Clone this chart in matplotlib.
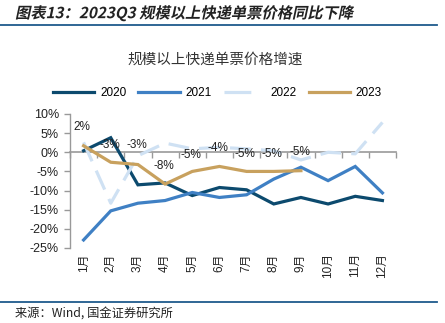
import matplotlib
matplotlib.use("Agg")
import matplotlib.pyplot as plt
from matplotlib.lines import Line2D
from matplotlib.patheffects import AbstractPathEffect
from matplotlib.transforms import Affine2D
import numpy as np

plt.rcParams['font.family'] = ['Liberation Sans', 'Noto Sans CJK SC', 'DejaVu Sans']

months = ['1月', '2月', '3月', '4月', '5月', '6月', '7月', '8月', '9月', '10月', '11月', '12月']
s2020 = [0.4, 3.8, -8.5, -8.0, -11.3, -9.2, -9.8, -13.5, -11.8, -13.5, -11.5, -12.6]
s2021 = [-22.9, -15.3, -13.3, -12.6, -10.5, -11.8, -11.1, -7.0, -3.9, -7.4, -3.7, -10.6]
s2022 = [2.6, -13.3, -0.9, 2.4, 0.9, 1.3, 0.9, 0.4, -2.0, 0.0, -0.4, 7.8]
s2023 = [1.7, -2.6, -3.2, -8.3, -5.0, -3.7, -5.0, -5.0, -4.8]
labels2023 = ['2%', '-3%', '-3%', '-8%', '-5%', '-4%', '-5%', '-5%', '-5%']
label_y = [6.5, 1.8, 1.8, -3.7, -0.7, 1.0, -0.4, -0.4, 0.0]
yticks = [10, 5, 0, -5, -10, -15, -20, -25]


class Skew(AbstractPathEffect):
    def __init__(self, deg=12):
        super().__init__()
        self.deg = deg

    def draw_path(self, renderer, gc, tpath, affine, rgbFace=None):
        m = affine.get_matrix()
        tx, ty = m[0, 2], m[1, 2]
        sk = Affine2D().translate(-tx, -ty).skew_deg(self.deg, 0).translate(tx, ty)
        renderer.draw_path(gc, tpath, affine + sk, rgbFace)


W, H = 445, 323
fig = plt.figure(figsize=(W / 100, H / 100), dpi=100)
ax = fig.add_axes([70 / W, 1 - 248 / H, (396 - 70) / W, (248 - 114) / H])

x = np.arange(len(months))
c2020, c2021, c2022, c2023 = '#0c4a6e', '#3f80c4', '#cfe1f3', '#c8a15e'
lw = 2.3
h20, = ax.plot(x, s2020, color=c2020, lw=lw, solid_joinstyle='miter')
h21, = ax.plot(x, s2021, color=c2021, lw=lw, solid_joinstyle='miter')
l22, = ax.plot(x, s2022, color=c2022, lw=lw)
l22.set_dashes((6.5, 3.2))
h23, = ax.plot(x[:len(s2023)], s2023, color=c2023, lw=lw, solid_joinstyle='miter')
h22 = Line2D([], [], color=c2022, lw=lw, dashes=(8.4, 6))

for i, (t, yy) in enumerate(zip(labels2023, label_y)):
    ax.text(x[i] - 0.05, yy, t, ha='center', va='center', fontsize=8.5, color='#222222')

ax.set_xlim(-0.5, len(months) - 0.5)
ax.set_ylim(-25, 10)
ax.set_yticks(yticks)
ax.set_yticklabels([f'{v}%' for v in yticks], fontsize=9, color='#222222')
for sp in ['top', 'right']:
    ax.spines[sp].set_visible(False)
ax.spines['left'].set_color('#999999')
ax.spines['left'].set_linewidth(1.0)
ax.spines['bottom'].set_position(('data', 0))
ax.spines['bottom'].set_color('#999999')
ax.spines['bottom'].set_linewidth(1.2)
ax.spines['bottom'].set_zorder(0.5)
ax.set_xticks(np.arange(-0.5, len(months), 1.0))
ax.set_xticklabels([])
ax.tick_params(axis='x', direction='out', length=4, color='#999999', width=1.0)
ax.tick_params(axis='y', direction='out', length=4, color='#999999', width=1.0, pad=4)

for i, m in enumerate(months):
    ax.text(x[i], -0.04, m, rotation=90, ha='center', va='top', fontsize=8.5,
            color='#222222', transform=ax.get_xaxis_transform())

fig.text(215 / W, 1 - 60 / H, '规模以上快递单票价格增速', ha='center', va='center',
         fontsize=10.5, color='#333333', family=['Noto Sans CJK SC'])

fig.legend([h20, h21, h22, h23], ['2020', '2021', '2022', '2023'],
           loc='center', bbox_to_anchor=(217.5 / W, 1 - 93 / H), ncol=4, frameon=False,
           fontsize=8.5, handlelength=3.5, handletextpad=0.5, columnspacing=1.0)

t = fig.text(15 / W, 1 - 13 / H, '图表13：2023Q3 规模以上快递单票价格同比下降', ha='left', va='center',
             fontsize=11, fontweight='bold', color='#222222',
             family=['Noto Sans CJK SC'])
t.set_path_effects([Skew(12)])
fig.add_artist(Line2D([0, 437 / W], [1 - 25 / H, 1 - 25 / H], color='#1f5a8c', lw=1.3))
fig.add_artist(Line2D([0, 437 / W], [1 - 301.5 / H, 1 - 301.5 / H], color='#1f5a8c', lw=1.3))
fig.text(15 / W, 1 - 313 / H, '来源：Wind, 国金证券研究所', ha='left', va='center',
         fontsize=8.8, color='#222222', family=['Noto Sans CJK SC'])

fig.savefig('out.png', dpi=100)
